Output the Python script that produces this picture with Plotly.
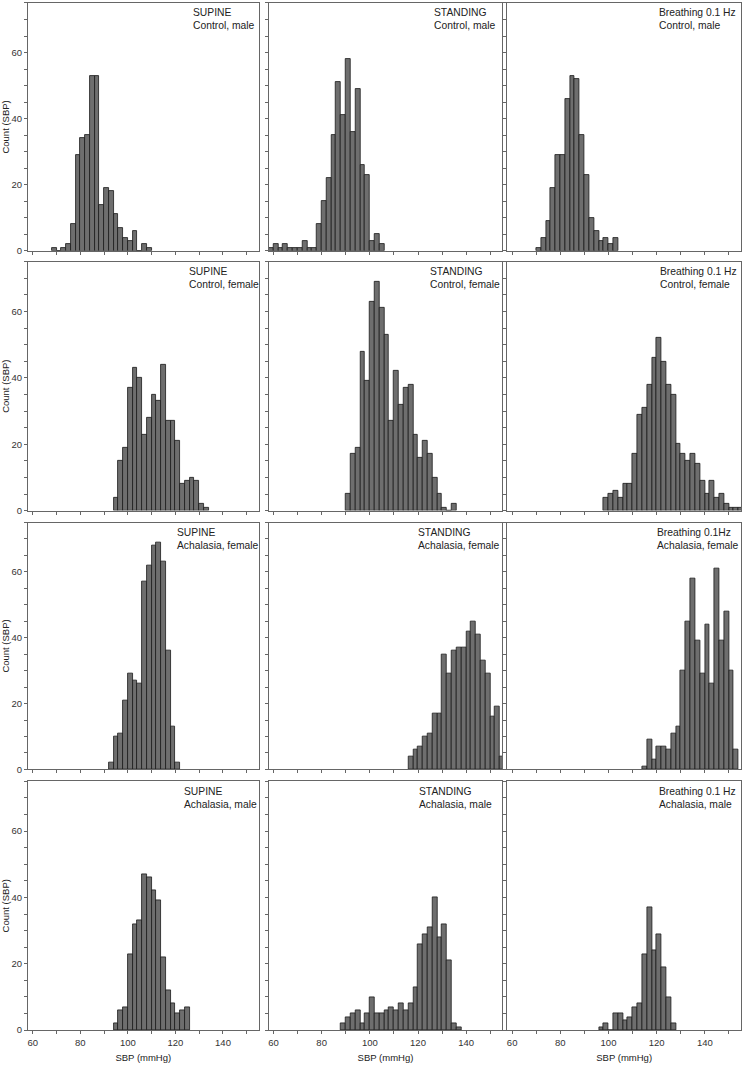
import plotly.graph_objects as go

W, H = 743, 1066

# ---- data: histogram counts, 2 mmHg bins; each list starts at the given bin left edge ----
BIN_WIDTH = 2
supine_ctrl_male_start = 68
supine_ctrl_male = [1, 0, 1, 2, 8, 29, 34, 35, 53, 53, 14, 19, 18, 11, 7, 4, 3, 6, 0, 2, 1]
standing_ctrl_male_start = 58
standing_ctrl_male = [1, 2, 1, 2, 1, 1, 1, 3, 1, 1, 8, 15, 22, 35, 51, 41, 58, 36, 49, 26, 23, 3, 5, 2]
breath_ctrl_male_start = 70
breath_ctrl_male = [1, 4, 9, 19, 29, 29, 46, 53, 52, 35, 23, 10, 6, 3, 4, 2, 4]

supine_ctrl_female_start = 94
supine_ctrl_female = [4, 15, 19, 37, 43, 40, 23, 28, 35, 33, 44, 27, 27, 21, 8, 9, 10, 9, 2, 1]
standing_ctrl_female_start = 90
standing_ctrl_female = [5, 17, 19, 48, 39, 63, 69, 61, 53, 27, 42, 32, 37, 38, 23, 16, 21, 17, 10, 5, 1, 0, 2]
breath_ctrl_female_start = 98
breath_ctrl_female = [4, 5, 6, 4, 8, 8, 17, 29, 31, 38, 46, 52, 45, 38, 35, 20, 17, 15, 17, 14, 9, 5, 9, 4, 5, 2, 1, 1, 1]

supine_ach_female_start = 92
supine_ach_female = [2, 10, 11, 21, 29, 27, 26, 57, 62, 68, 69, 63, 36, 13, 2]
standing_ach_female_start = 116
standing_ach_female = [4, 6, 7, 10, 11, 17, 17, 35, 29, 36, 37, 37, 42, 45, 41, 33, 29, 16, 19, 4]
breath_ach_female_start = 114
breath_ach_female = [1, 9, 3, 7, 7, 6, 11, 13, 30, 45, 58, 39, 29, 44, 26, 61, 39, 48, 30, 6]

supine_ach_male_start = 94
supine_ach_male = [2, 6, 7, 23, 32, 33, 47, 46, 42, 39, 22, 12, 8, 5, 6, 7]
standing_ach_male_start = 88
standing_ach_male = [2, 4, 5, 6, 2, 5, 10, 5, 5, 6, 7, 6, 8, 6, 8, 13, 26, 29, 31, 40, 28, 32, 21, 2, 1]
breath_ach_male_start = 96
breath_ach_male = [1, 2, 0, 5, 5, 3, 4, 7, 8, 23, 37, 24, 29, 19, 10, 2]

panel_labels = [
    ("SUPINE", "Control, male"), ("STANDING", "Control, male"), ("Breathing 0.1 Hz", "Control, male"),
    ("SUPINE", "Control, female"), ("STANDING", "Control, female"), ("Breathing 0.1 Hz", "Control, female"),
    ("SUPINE", "Achalasia, female"), ("STANDING", "Achalasia, female"), ("Breathing 0.1Hz", "Achalasia, female"),
    ("SUPINE", "Achalasia, male"), ("STANDING", "Achalasia, male"), ("Breathing 0.1 Hz", "Achalasia, male"),
]
panels = [
    (supine_ctrl_male_start, supine_ctrl_male), (standing_ctrl_male_start, standing_ctrl_male), (breath_ctrl_male_start, breath_ctrl_male),
    (supine_ctrl_female_start, supine_ctrl_female), (standing_ctrl_female_start, standing_ctrl_female), (breath_ctrl_female_start, breath_ctrl_female),
    (supine_ach_female_start, supine_ach_female), (standing_ach_female_start, standing_ach_female), (breath_ach_female_start, breath_ach_female),
    (supine_ach_male_start, supine_ach_male), (standing_ach_male_start, standing_ach_male), (breath_ach_male_start, breath_ach_male),
]
x_title = "SBP (mmHg)"
y_title = "Count (SBP)"

# ---- layout geometry (pixels) ----
col_px = [(27, 258), (268, 502), (507, 741)]
row_px = [(3, 252), (263, 513), (525, 773), (785, 1035)]
label_left_px = [[192, 434, 659], [188, 430, 660], [176, 418, 657], [183, 419, 659]]

FONT = "Liberation Sans, Arial, sans-serif"
fig = go.Figure()
layout = dict(
    width=W, height=H, margin=dict(l=0, r=0, t=0, b=0),
    paper_bgcolor="white", plot_bgcolor="white", showlegend=False,
    font=dict(family=FONT, size=9, color="#222"),
    bargap=0,
)
annotations = []

for i, (start, counts) in enumerate(panels):
    r, c = divmod(i, 3)
    n = i + 1
    xs = [start + BIN_WIDTH * k + BIN_WIDTH / 2 for k in range(len(counts))]
    fig.add_trace(go.Bar(
        x=xs, y=counts, width=BIN_WIDTH, xaxis=f"x{n}", yaxis=f"y{n}",
        marker=dict(color="#6e6e6e", line=dict(color="#1a1a1a", width=0.8)),
        hoverinfo="x+y",
    ))
    x0, x1 = col_px[c]
    t, b = row_px[r]
    xa = dict(
        domain=[x0 / W, x1 / W], range=[58, 155], anchor=f"y{n}",
        showgrid=False, zeroline=False, showline=True, mirror=True,
        linecolor="#666", linewidth=1,
        ticks="outside", ticklen=3, tickcolor="#666", tick0=60, dtick=20,
        minor=dict(ticks="outside", ticklen=3, tickcolor="#666", dtick=10, tick0=60),
        showticklabels=(r == 3), tickfont=dict(size=9.5, color="#333"),
    )
    if r == 3:
        xa["title"] = dict(text=x_title, font=dict(size=9.5, color="#222"), standoff=7)
    ya = dict(
        domain=[1 - b / H, 1 - t / H], range=[0, 75], anchor=f"x{n}",
        showgrid=False, zeroline=False, showline=True, mirror=True,
        linecolor="#666", linewidth=1,
        ticks="outside", ticklen=3, tickcolor="#666", tick0=0, dtick=20,
        minor=dict(ticks="outside", ticklen=3, tickcolor="#666", dtick=5, tick0=0),
        showticklabels=(c == 0), tickfont=dict(size=9.5, color="#333"),
    )
    if c == 0:
        ya["title"] = dict(text=y_title, font=dict(size=9.5, color="#222"), standoff=2)
    layout[f"xaxis{n}"] = xa
    layout[f"yaxis{n}"] = ya
    l1, l2 = panel_labels[i]
    annotations.append(dict(
        text=f"{l1}<br>{l2}", xref="paper", yref="paper",
        x=(label_left_px[r][c] - 2) / W, y=1 - (t + 2.5) / H,
        xanchor="left", yanchor="top", align="left", showarrow=False,
        font=dict(family=FONT, size=10.3, color="#222"),
    ))

layout["annotations"] = annotations
fig.update_layout(**layout)
fig.write_html(
    "out.html",
    config={"displayModeBar": False},
    post_script="document.body.style.margin='0';document.body.style.overflow='hidden';",
)
